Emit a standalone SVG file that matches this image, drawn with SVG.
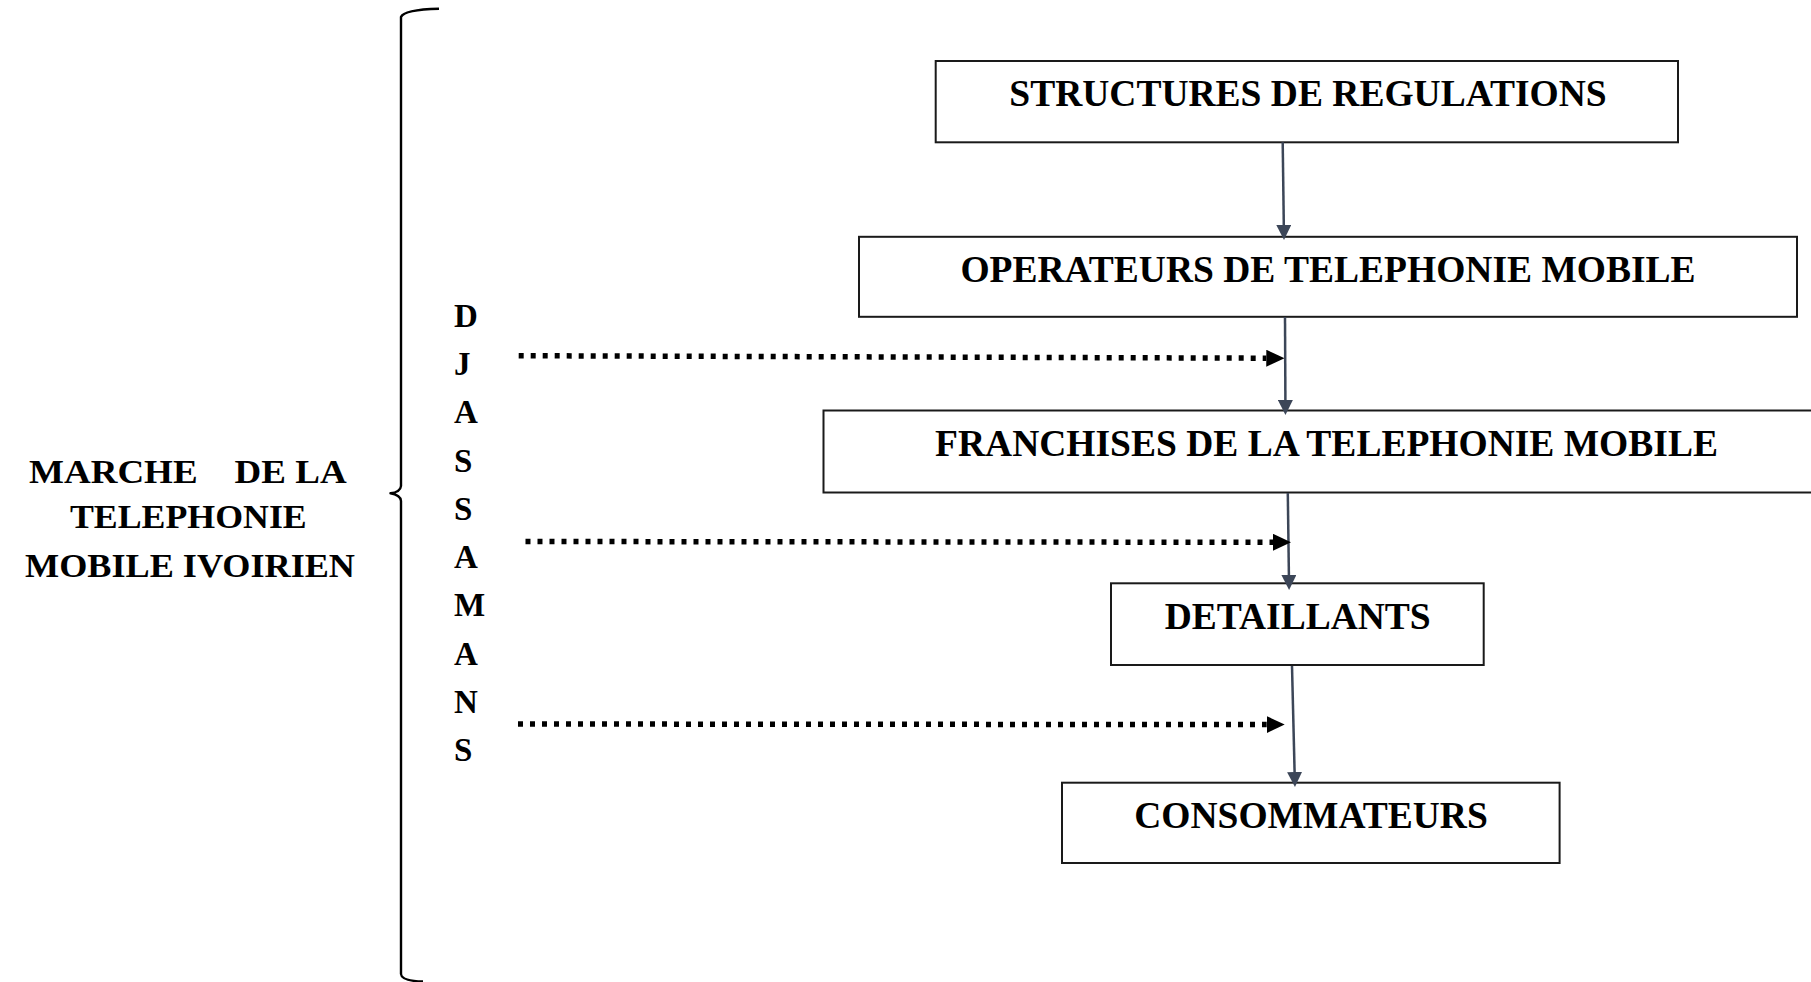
<svg xmlns="http://www.w3.org/2000/svg" width="1811" height="982" viewBox="0 0 1811 982">
<style>
.box{fill:#ffffff;stroke:#1a1a1a;stroke-width:2}
.bt{font-family:"Liberation Serif","Times New Roman",serif;font-weight:bold;font-size:37.5px;fill:#000;text-anchor:middle}
.lt{font-family:"Liberation Serif","Times New Roman",serif;font-weight:bold;font-size:33px;fill:#000}
.conn{fill:none;stroke:#3c4658;stroke-width:2.5}
.dot{fill:none;stroke:#000;stroke-width:5.5;stroke-dasharray:5 7}
.brace{fill:none;stroke:#000;stroke-width:2.4;stroke-linejoin:round}
</style>
<defs>
<marker id="ah" viewBox="0 0 15 15" refX="0" refY="7.5" markerWidth="15" markerHeight="15" markerUnits="userSpaceOnUse" orient="auto">
<path d="M0,0 L15,7.5 L0,15 z" fill="#3c4658"/>
</marker>
<marker id="dh" viewBox="0 0 18 17" refX="0" refY="8.5" markerWidth="18" markerHeight="17" markerUnits="userSpaceOnUse" orient="auto">
<path d="M0,0 L18,8.5 L0,17 z" fill="#000"/>
</marker>
</defs>

<g id="brace">
<path class="brace" d="M439,8.7 Q404,9.5 401,17 L401,486 Q400.5,492 390.5,493.3 Q400.5,495 401,501 L401,974 Q401.5,981 423,981.5"/>
</g>

<g id="marche">
<text class="lt" xml:space="preserve" x="29" y="483.3" textLength="317.7" lengthAdjust="spacingAndGlyphs">MARCHE    DE LA</text>
<text class="lt" x="70" y="528.3" textLength="236.7" lengthAdjust="spacingAndGlyphs">TELEPHONIE</text>
<text class="lt" x="25" y="576.7" textLength="330" lengthAdjust="spacingAndGlyphs">MOBILE IVOIRIEN</text>
</g>

<g id="djassamans">
<text class="lt" x="454" y="326.7">D</text>
<text class="lt" x="454" y="375">J</text>
<text class="lt" x="454" y="423.2">A</text>
<text class="lt" x="454" y="471.5">S</text>
<text class="lt" x="454" y="519.7">S</text>
<text class="lt" x="454" y="568">A</text>
<text class="lt" x="454" y="616.3">M</text>
<text class="lt" x="454" y="664.5">A</text>
<text class="lt" x="454" y="712.8">N</text>
<text class="lt" x="454" y="761">S</text>
</g>

<g id="n1">
<rect class="box" x="935.7" y="61" width="742.3" height="81.3"/>
<text class="bt" x="1308" y="106">STRUCTURES DE REGULATIONS</text>
</g>
<g id="n2">
<rect class="box" x="859" y="236.8" width="938" height="80"/>
<text class="bt" x="1328" y="282">OPERATEURS DE TELEPHONIE MOBILE</text>
</g>
<g id="n3">
<rect class="box" x="823.5" y="410.5" width="1000" height="82"/>
<text class="bt" x="1326.5" y="456">FRANCHISES DE LA TELEPHONIE MOBILE</text>
</g>
<g id="n4">
<rect class="box" x="1111" y="583.3" width="372.7" height="81.7"/>
<text class="bt" x="1297.7" y="628.5">DETAILLANTS</text>
</g>
<g id="n5">
<rect class="box" x="1062" y="782.7" width="497.6" height="80.3"/>
<text class="bt" x="1311" y="828">CONSOMMATEURS</text>
</g>

<g id="connectors">
<line class="conn" x1="1282.7" y1="142.3" x2="1283.8" y2="225" marker-end="url(#ah)"/>
<line class="conn" x1="1285" y1="317" x2="1285.4" y2="400" marker-end="url(#ah)"/>
<line class="conn" x1="1287.8" y1="493" x2="1288.9" y2="575" marker-end="url(#ah)"/>
<line class="conn" x1="1292" y1="666" x2="1294.6" y2="772" marker-end="url(#ah)"/>
<line class="dot" x1="518.7" y1="355.7" x2="1266.3" y2="358.2" marker-end="url(#dh)"/>
<line class="dot" x1="525.5" y1="541.5" x2="1273" y2="542.3" marker-end="url(#dh)"/>
<line class="dot" x1="518" y1="724" x2="1266.7" y2="724.6" marker-end="url(#dh)"/>
</g>
</svg>
